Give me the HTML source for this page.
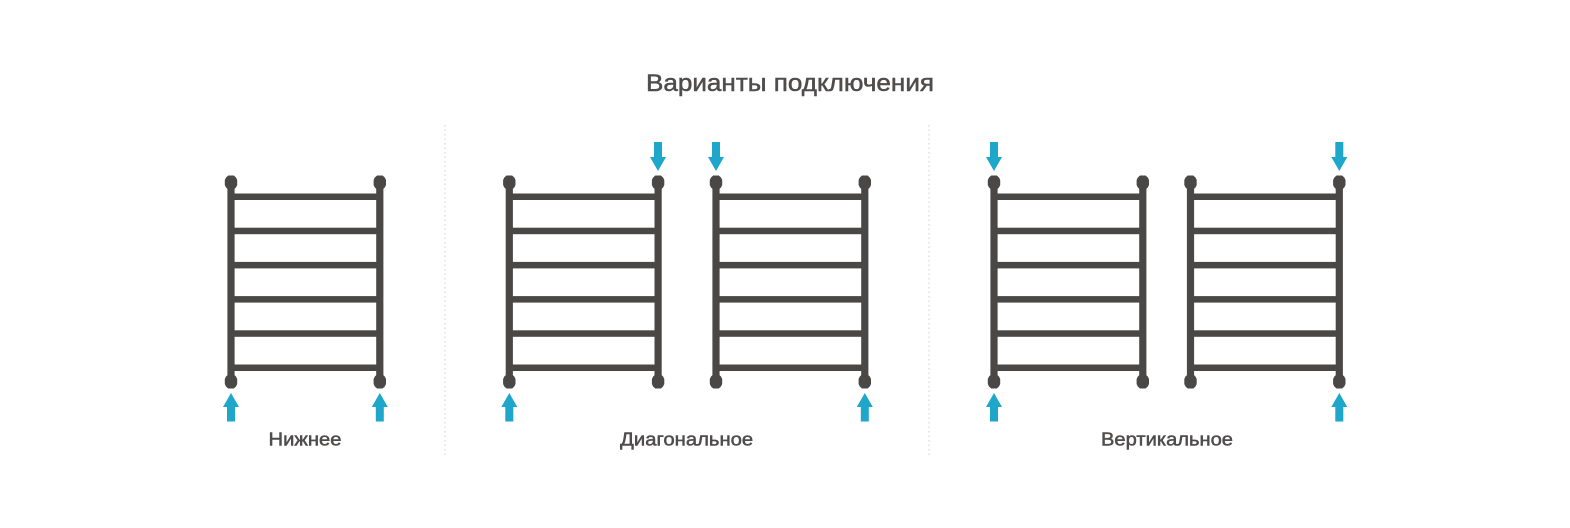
<!DOCTYPE html>
<html lang="ru">
<head>
<meta charset="utf-8">
<title>Варианты подключения</title>
<style>
html,body{margin:0;padding:0;background:#fff;width:1570px;height:528px;overflow:hidden}
svg{display:block;filter:blur(.35px)}
text{font-family:"Liberation Sans",sans-serif;fill:#4f4d4c;text-anchor:middle;stroke:#4f4d4c;stroke-width:.5px}
</style>
</head>
<body>
<svg width="1570" height="528" viewBox="0 0 1570 528" xmlns="http://www.w3.org/2000/svg">
<defs>
<g id="knob"><polygon fill="#4a4847" points="-2.8,-7 2.8,-7 5,-5 6.2,-2.5 6.2,2.5 5,5 2.8,7 -2.8,7 -5,5 -6.2,2.5 -6.2,-2.5 -5,-5"/></g>
<g id="rad" fill="#4a4847">
<rect x="-3.6" y="183" width="7.2" height="199"/>
<rect x="145.2" y="183" width="7.2" height="199"/>
<rect x="0" y="193.5" width="148.8" height="6.5"/>
<rect x="0" y="227.7" width="148.8" height="6.5"/>
<rect x="0" y="261.9" width="148.8" height="6.5"/>
<rect x="0" y="296.1" width="148.8" height="6.5"/>
<rect x="0" y="330.3" width="148.8" height="6.5"/>
<rect x="0" y="364.5" width="148.8" height="6.5"/>
<use href="#knob" x="0" y="182.5"/>
<use href="#knob" x="148.8" y="182.5"/>
<use href="#knob" x="0" y="381.5"/>
<use href="#knob" x="148.8" y="381.5"/>
</g>
<polygon id="up" fill="#1ea6cb" points="0,393 8,407 4,407 4,421.5 -4,421.5 -4,407 -8,407"/>
<polygon id="down" fill="#1ea6cb" points="0,171 8,157 4,157 4,142 -4,142 -4,157 -8,157"/>
</defs>

<text x="790" y="91" font-size="24" textLength="288" lengthAdjust="spacingAndGlyphs">Варианты подключения</text>

<line x1="445" y1="125" x2="445" y2="456" stroke="#cfcfcf" stroke-width="1" stroke-dasharray="1.5 3"/>
<line x1="929" y1="125" x2="929" y2="456" stroke="#cfcfcf" stroke-width="1" stroke-dasharray="1.5 3"/>

<use href="#rad" x="231"/>
<use href="#rad" x="509.3"/>
<use href="#rad" x="716"/>
<use href="#rad" x="994"/>
<use href="#rad" x="1190.5"/>

<use href="#up" x="231"/>
<use href="#up" x="379.8"/>
<use href="#up" x="509.3"/>
<use href="#down" x="658"/>
<use href="#down" x="716"/>
<use href="#up" x="864.8"/>
<use href="#down" x="994"/>
<use href="#up" x="994"/>
<use href="#down" x="1339.3"/>
<use href="#up" x="1339.3"/>

<text x="305" y="445.5" font-size="18" textLength="73" lengthAdjust="spacingAndGlyphs">Нижнее</text>
<text x="686.7" y="445.5" font-size="18" textLength="133" lengthAdjust="spacingAndGlyphs">Диагональное</text>
<text x="1167" y="445.5" font-size="18" textLength="132" lengthAdjust="spacingAndGlyphs">Вертикальное</text>
</svg>
</body>
</html>
